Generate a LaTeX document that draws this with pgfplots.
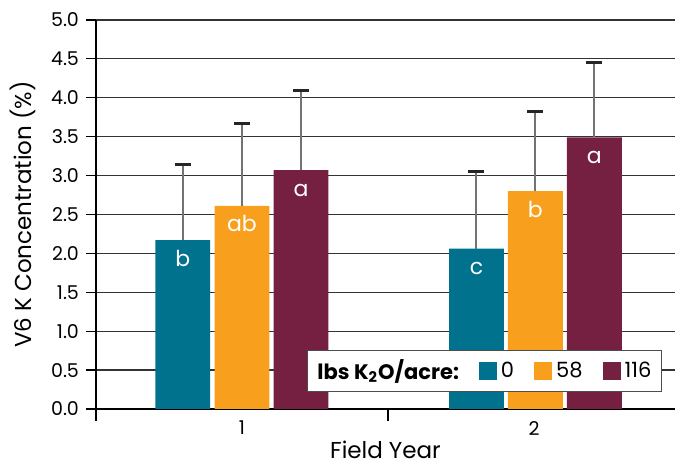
\documentclass[border=0pt]{standalone}
\usepackage{pgfplots}
\pgfplotsset{compat=1.18}
\usepackage{fontspec}
\setmainfont{Poppins}
\usetikzlibrary{calc}
\definecolor{cteal}{HTML}{00728E}
\definecolor{corange}{HTML}{F8A01D}
\definecolor{cmaroon}{HTML}{751F41}
\begin{document}
\begin{tikzpicture}
\begin{axis}[
  scale only axis, width=289.5pt, height=194.5pt,
  xmin=0.5, xmax=2.483, ymin=0, ymax=5,
  axis x line*=bottom, axis y line*=left,
  axis line style={black, line width=0.7pt},
  tick align=outside,
  ytick={0,0.5,...,5.0},
  yticklabel style={/pgf/number format/.cd, fixed, fixed zerofill, precision=1, assume math mode=true},
  ymajorgrids, grid style={black!80, line width=0.6pt},
  major tick length=5pt,
  ytick style={black, line width=0.6pt},
  xtick={1,2}, xticklabels={1,2},
  major x tick style={draw=none},
  minor xtick={0.5,1.5,2.5},
  minor tick length=6pt,
  minor x tick style={black, line width=0.6pt},
  tick label style={font=\fontsize{9.5}{11}\selectfont},
  xticklabel style={yshift=2.5pt},
  ylabel={V6 K Concentration (\%)},
  xlabel={Field Year},
  every axis y label/.style={at={(axis description cs:-0.126,0.5)}, rotate=90, anchor=center, font=\fontsize{11.5}{13}\selectfont},
  every axis x label/.style={at={(axis description cs:0.5,0)}, anchor=center, yshift=-20.5pt, font=\fontsize{11.5}{13}\selectfont},
  ybar, bar width=0.188,
  error bars/y dir=plus, error bars/y explicit,
  error bars/error bar style={line width=1pt, black!55},
  error bars/error mark options={rotate=90, mark size=4pt, line width=1.4pt, black!85},
  nodes near coords, point meta=explicit symbolic,
  every node near coord/.append style={anchor=base, yshift=-13pt, text=white, font=\fontsize{11}{13}\selectfont},
  legend columns=4,
  legend style={at={(rel axis cs:1,0)}, anchor=south east, xshift=-6.5pt, yshift=8.5pt,
    draw=black!70, line width=0.6pt, font=\fontsize{10.5}{12}\selectfont,
    inner xsep=3pt, inner ysep=2.5pt,
    /tikz/every even column/.append style={column sep=8pt}},
  legend image code/.code={\fill[#1] (0pt,-4.5pt) rectangle (9pt,4.5pt);},
]
\addlegendimage{empty legend}
\addlegendentry{\textbf{lbs K\textsubscript{2}O/acre:}}
\addplot[fill=cteal, draw=none, bar shift=0pt] table[x=x, y=y, y error plus=e, meta=lab] {
x y e lab
0.797 2.17 0.97 b
1.803 2.06 0.99 c
};
\addlegendentry{0}
\addplot[fill=corange, draw=none, bar shift=0pt] table[x=x, y=y, y error plus=e, meta=lab] {
x y e lab
1.000 2.61 1.06 ab
2.005 2.80 1.02 b
};
\addlegendentry{58}
\addplot[fill=cmaroon, draw=none, bar shift=0pt] table[x=x, y=y, y error plus=e, meta=lab] {
x y e lab
1.202 3.07 1.02 a
2.207 3.49 0.96 a
};
\addlegendentry{116}
\end{axis}
\pgfresetboundingbox
\path ($(current axis.south west)+(-48pt,-28pt)$) rectangle ($(current axis.north east)+(0pt,10pt)$);
\end{tikzpicture}
\end{document}
